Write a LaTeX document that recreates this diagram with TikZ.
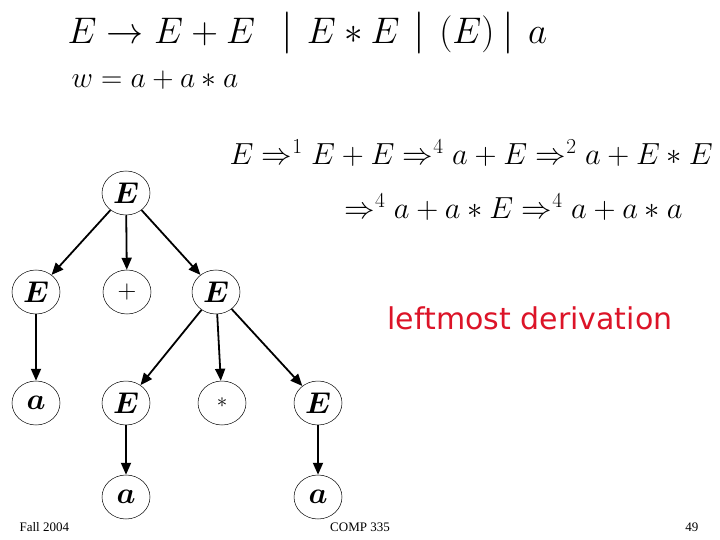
\RequirePackage{fix-cm}
\documentclass[tikz,border=0pt]{standalone}
\usepackage{amsmath,amssymb,bm}
\usepackage{fontspec}
\setmainfont{Liberation Serif}
\newfontfamily\handfont{DejaVu Sans}
\usetikzlibrary{arrows.meta,shapes.geometric}
\definecolor{derivred}{RGB}{220,20,40}
\newcommand{\altbar}{\hbox{\fontsize{42}{44}\selectfont$|$}}
\tikzset{
  treenode/.style={ellipse,draw,line width=0.5pt,minimum width=48pt,minimum height=44pt,inner sep=0pt,font=\fontsize{30}{34}\selectfont},
  treeedge/.style={line width=1.8pt,-{Triangle[length=12pt,width=10pt]}},
  foot/.style={font=\fontsize{13}{15}\selectfont}
}
\begin{document}
\begin{tikzpicture}[x=1pt,y=-1pt]
  \useasboundingbox (0,0) rectangle (720,540);
  % grammar and string
  \node[anchor=west,font=\fontsize{37}{44}\selectfont] (gram) at (64,33)
    {$E \rightarrow E+E \hspace{26pt}\altbar\hspace{14pt} E*E \hspace{14pt}\altbar\hspace{14pt} (E) \hspace{8pt}\altbar\hspace{14pt} a$};
  \node[anchor=west,font=\fontsize{29.5}{34}\selectfont] (word) at (68,80)
    {$w=a+a*a$};
  % derivation
  \node[anchor=west,font=\fontsize{30.5}{36}\selectfont] (der1) at (226,153)
    {$E \Rightarrow^{1} E+E \Rightarrow^{4} a+E \Rightarrow^{2} a+E*E$};
  \node[anchor=west,font=\fontsize{30.5}{36}\selectfont] (der2) at (341,207)
    {$\Rightarrow^{4} a+a*E \Rightarrow^{4} a+a*a$};
  \node[anchor=west,derivred,font=\handfont\fontsize{30}{34}\selectfont] (lbl) at (384,318)
    {leftmost derivation};
  % tree
  \node[treenode] (root) at (126,193) {$\bm{E}$};
  \node[treenode] (l) at (36,292) {$\bm{E}$};
  \node[treenode] (plus) at (127,292) {\fontsize{26}{28}\selectfont$+$};
  \node[treenode] (r) at (216,292) {$\bm{E}$};
  \node[treenode] (la) at (36,403) {$\bm{a}$};
  \node[treenode] (rl) at (126,403) {$\bm{E}$};
  \node[treenode] (times) at (222,403) {$\scriptstyle *$};
  \node[treenode] (rr) at (318,403) {$\bm{E}$};
  \node[treenode] (rla) at (126,497) {$\bm{a}$};
  \node[treenode] (rra) at (318,497) {$\bm{a}$};
  \foreach \a/\b in {root/l,root/plus,root/r,l/la,r/rl,r/times,r/rr,rl/rla,rr/rra}
    \draw[treeedge] (\a) -- (\b);
  % footer
  \node[foot,anchor=west] (fall) at (16,527) {Fall 2004};
  \node[foot] (course) at (360,527) {COMP 335};
  \node[foot,anchor=east] (page) at (702,527) {49};
\end{tikzpicture}
\end{document}
